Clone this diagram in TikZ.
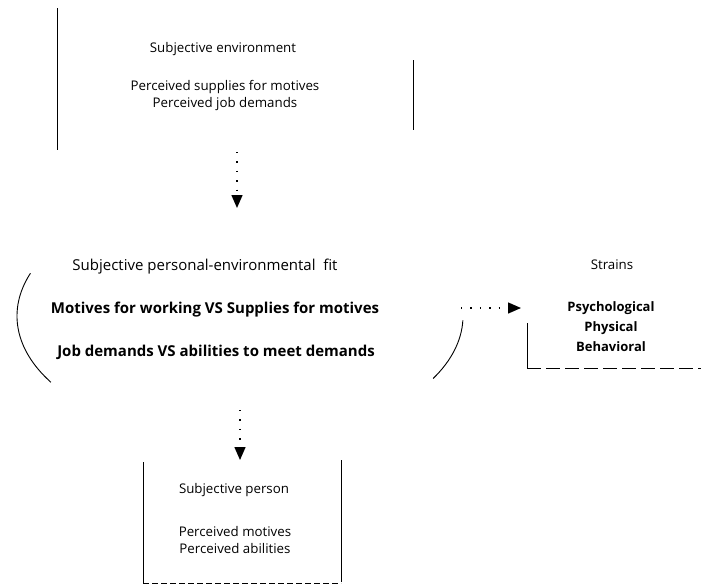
\documentclass[tikz,border=0pt]{standalone}
\usepackage{fontspec}
\setmainfont{Open Sans}
\usetikzlibrary{arrows.meta}
\begin{document}
\begin{tikzpicture}[x=1pt,y=-1pt,
  txt/.style={inner sep=0pt,font=\fontsize{13.3}{17}\selectfont,align=center},
  big/.style={inner sep=0pt,font=\fontsize{15}{18}\selectfont\bfseries,align=center},
  rule/.style={line width=0.9pt},
  dots/.style={line width=1.4pt,dash pattern=on 1.4pt off 8pt},
  conn/.style={dots,-{Triangle[length=13pt,width=11pt]}}]
\useasboundingbox (0,0) rectangle (701,584);
% top box
\draw[rule] (57,8) -- (57,150);
\draw[rule] (413,60) -- (413,130);
\node[txt] (envtitle) at (223,49) {Subjective environment};
\node[txt] (envitems) at (225,96) {Perceived supplies for motives\\Perceived job demands};
\coordinate (envout) at (237,152);
\coordinate (fitin) at (237,208);
\draw[conn] (envout) -- (fitin);
% ellipse
\coordinate (c) at (240,316);
\draw[rule] ([shift={(160:223pt and 125pt)}]c) arc[start angle=160,end angle=212,x radius=223pt,y radius=125pt];
\draw[rule] ([shift={(-2:223pt and 125pt)}]c) arc[start angle=-2,end angle=-30,x radius=223pt,y radius=125pt];
\node[txt,font=\fontsize{15}{18}\selectfont] (fittitle) at (205,267) {Subjective personal-environmental\ \ fit};
\node[big] (fit1) at (215,310) {Motives for working VS Supplies for motives};
\node[big] (fit2) at (216,352) {Job demands VS abilities to meet demands};
\coordinate (fitright) at (461,308);
\coordinate (strainsin) at (521,308);
\draw[conn] (fitright) -- (strainsin);
% strains
\node[txt] (strains) at (612,265) {Strains};
\node[big,font=\fontsize{13}{20}\selectfont\bfseries] (strainitems) at (611,327) {Psychological\\Physical\\Behavioral};
\draw[rule] (527,323) -- (527,368);
\draw[rule,dash pattern=on 14pt off 5pt] (527,368) -- (701,368);
% bottom
\coordinate (fitout) at (240,410);
\coordinate (personin) at (240,460);
\draw[conn] (fitout) -- (personin);
\draw[rule] (143,462) -- (143,583);
\draw[rule] (341,460) -- (341,582);
\draw[rule,dash pattern=on 6pt off 3pt] (143,583) -- (341,583);
\node[txt] (persontitle) at (234,490) {Subjective person};
\node[txt] (personitems) at (235,540) {Perceived motives\\Perceived abilities};
\end{tikzpicture}
\end{document}
